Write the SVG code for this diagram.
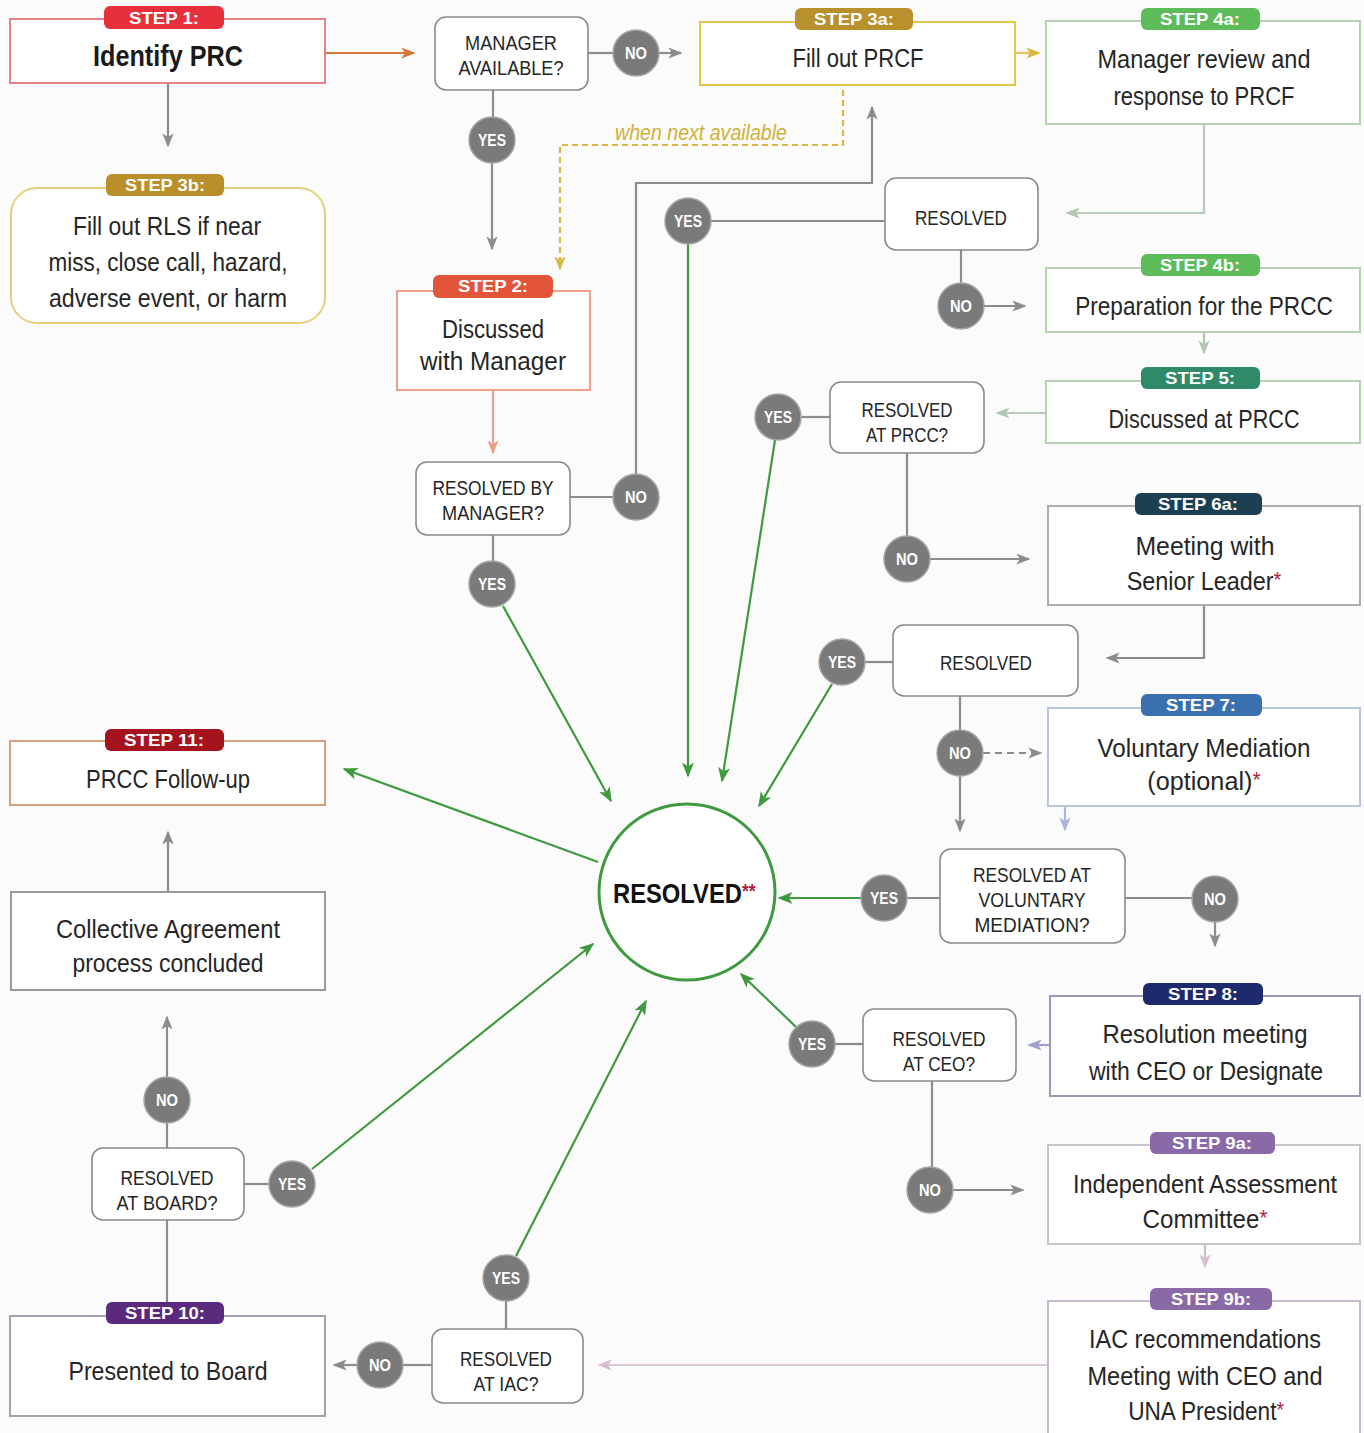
<svg xmlns="http://www.w3.org/2000/svg" width="1364" height="1433" viewBox="0 0 1364 1433">
<defs>
<style>
text{font-family:"Liberation Sans",Arial,sans-serif;fill:#262626}
.t{font-size:26px;text-anchor:middle}
.d{font-size:21px;text-anchor:middle}
.p{font-size:17px;font-weight:bold;fill:#fff;text-anchor:middle}
.bt{fill:#fff;font-size:17px;font-weight:bold;text-anchor:middle}
.box{fill:#fff;stroke-width:2}
.dec{fill:#fff;stroke:#8a8a8a;stroke-width:1.6}
.badge{fill:#7a7a7a;stroke:#a5a5a5;stroke-width:1.5}
.c{fill:none;stroke-width:2.2}
.g{stroke:#8c8c8c}
.gr{stroke:#3f9a3f}
.ast{fill:#b0203a;font-size:22px}
</style>
<marker id="mg" viewBox="0 0 10 10" refX="9" refY="5" markerWidth="14" markerHeight="14" markerUnits="userSpaceOnUse" orient="auto"><path d="M0,1 L10,5 L0,9 L2.5,5 z" fill="#8c8c8c"/></marker>
<marker id="mgr" viewBox="0 0 10 10" refX="9" refY="5" markerWidth="15" markerHeight="15" markerUnits="userSpaceOnUse" orient="auto"><path d="M0,1 L10,5 L0,9 L2.5,5 z" fill="#3f9a3f"/></marker>
<marker id="mo" viewBox="0 0 10 10" refX="9" refY="5" markerWidth="14" markerHeight="14" markerUnits="userSpaceOnUse" orient="auto"><path d="M0,1 L10,5 L0,9 L2.5,5 z" fill="#d9773a"/></marker>
<marker id="my" viewBox="0 0 10 10" refX="9" refY="5" markerWidth="14" markerHeight="14" markerUnits="userSpaceOnUse" orient="auto"><path d="M0,1 L10,5 L0,9 L2.5,5 z" fill="#d8b840"/></marker>
<marker id="mlg" viewBox="0 0 10 10" refX="9" refY="5" markerWidth="14" markerHeight="14" markerUnits="userSpaceOnUse" orient="auto"><path d="M0,1 L10,5 L0,9 L2.5,5 z" fill="#b0c8b0"/></marker>
<marker id="mlp" viewBox="0 0 10 10" refX="9" refY="5" markerWidth="14" markerHeight="14" markerUnits="userSpaceOnUse" orient="auto"><path d="M0,1 L10,5 L0,9 L2.5,5 z" fill="#a0a0c8"/></marker>
<marker id="ms" viewBox="0 0 10 10" refX="9" refY="5" markerWidth="14" markerHeight="14" markerUnits="userSpaceOnUse" orient="auto"><path d="M0,1 L10,5 L0,9 L2.5,5 z" fill="#eca08c"/></marker>
<marker id="mlb" viewBox="0 0 10 10" refX="9" refY="5" markerWidth="14" markerHeight="14" markerUnits="userSpaceOnUse" orient="auto"><path d="M0,1 L10,5 L0,9 L2.5,5 z" fill="#a8b4d8"/></marker>
<marker id="mpk" viewBox="0 0 10 10" refX="9" refY="5" markerWidth="14" markerHeight="14" markerUnits="userSpaceOnUse" orient="auto"><path d="M0,1 L10,5 L0,9 L2.5,5 z" fill="#d8bcd0"/></marker>
</defs>
<rect width="1364" height="1433" fill="#fbfbfb"/>

<g id="connectors">
<path class="c" stroke="#d9773a" d="M325,53 H414" marker-end="url(#mo)"/>
<path class="c g" d="M168,84 V146" marker-end="url(#mg)"/>
<path class="c g" d="M588,53 H613"/>
<path class="c g" d="M659,53 H681" marker-end="url(#mg)"/>
<path class="c g" d="M493,90 V117"/>
<path class="c g" d="M492,163 V249" marker-end="url(#mg)"/>
<path class="c" stroke="#e3c860" d="M1016,53 H1039" marker-end="url(#my)"/>
<path class="c" stroke="#d8b840" stroke-dasharray="6,4" d="M843,90 V145 H560 V269" marker-end="url(#my)"/>
<path class="c" stroke="#b8ccb8" d="M1204,124 V213 H1067" marker-end="url(#mlg)"/>
<path class="c g" d="M885,221 H711"/>
<path class="c gr" d="M688,244 V776" marker-end="url(#mgr)"/>
<path class="c g" d="M961,250 V283"/>
<path class="c g" d="M984,306 H1025" marker-end="url(#mg)"/>
<path class="c" stroke="#b0c8b0" d="M1204,332 V353" marker-end="url(#mlg)"/>
<path class="c" stroke="#b8ccb8" d="M1046,413 H997" marker-end="url(#mlg)"/>
<path class="c" stroke="#eca08c" d="M493,390 V453" marker-end="url(#ms)"/>
<path class="c g" d="M570,497 H614"/>
<path class="c g" d="M636,474 V183 H872 V107" marker-end="url(#mg)"/>
<path class="c g" d="M493,535 V561"/>
<path class="c gr" d="M503,606 L611,801" marker-end="url(#mgr)"/>
<path class="c g" d="M830,417 H801"/>
<path class="c gr" d="M775,440 L722,781" marker-end="url(#mgr)"/>
<path class="c g" d="M907,453 V536"/>
<path class="c g" d="M930,559 H1029" marker-end="url(#mg)"/>
<path class="c g" d="M1204,605 V658 H1107" marker-end="url(#mg)"/>
<path class="c g" d="M893,662 H865"/>
<path class="c gr" d="M832,684 L759,806" marker-end="url(#mgr)"/>
<path class="c g" d="M960,696 V730"/>
<path class="c g" d="M960,776 V831" marker-end="url(#mg)"/>
<path class="c g" stroke-dasharray="7,5" d="M983,753 H1041" marker-end="url(#mg)"/>
<path class="c" stroke="#a8b4d8" d="M1065,806 V830" marker-end="url(#mlb)"/>
<path class="c g" d="M940,898 H907"/>
<path class="c gr" d="M861,898 H779" marker-end="url(#mgr)"/>
<path class="c g" d="M1125,898 H1192"/>
<path class="c g" d="M1215,922 V946" marker-end="url(#mg)"/>
<path class="c" stroke="#a0a0c8" d="M1050,1045 H1029" marker-end="url(#mlp)"/>
<path class="c g" d="M863,1044 H835"/>
<path class="c gr" d="M796,1027 L741,974" marker-end="url(#mgr)"/>
<path class="c g" d="M932,1081 V1167"/>
<path class="c g" d="M953,1190 H1023" marker-end="url(#mg)"/>
<path class="c" stroke="#c8c0cc" d="M1205,1244 V1267" marker-end="url(#mpk)"/>
<path class="c" stroke="#dcc8d6" d="M1048,1365 H599" marker-end="url(#mpk)"/>
<path class="c g" d="M432,1365 H403"/>
<path class="c g" d="M357,1365 H334" marker-end="url(#mg)"/>
<path class="c g" d="M506,1329 V1301"/>
<path class="c gr" d="M516,1256 L646,1001" marker-end="url(#mgr)"/>
<path class="c g" d="M167,1315 V1220"/>
<path class="c g" d="M167,1148 V1123"/>
<path class="c g" d="M167,1077 V1017" marker-end="url(#mg)"/>
<path class="c g" d="M244,1184 H270"/>
<path class="c gr" d="M312,1169 L593,944" marker-end="url(#mgr)"/>
<path class="c g" d="M168,892 V832" marker-end="url(#mg)"/>
<path class="c gr" d="M598,862 L344,769" marker-end="url(#mgr)"/>
</g>

<g id="step1">
<rect class="box" x="10" y="19" width="315" height="64" stroke="#e8808a"/>
<rect x="104" y="6" width="120" height="23" rx="6" fill="#e8303c"/>
<text class="p" x="164" y="24" textLength="70" lengthAdjust="spacingAndGlyphs">STEP 1:</text>
<text x="168" y="66" font-size="29" font-weight="bold" text-anchor="middle" style="fill:#1a1a1a" textLength="150" lengthAdjust="spacingAndGlyphs">Identify PRC</text>
</g>

<g id="step3b">
<rect class="box" x="11" y="188" width="314" height="135" rx="26" stroke="#e6cf7a"/>
<rect x="106" y="174" width="118" height="22" rx="6" fill="#b88f2a"/>
<text class="p" x="165" y="191" textLength="80" lengthAdjust="spacingAndGlyphs">STEP 3b:</text>
<text class="t" x="167" y="235" textLength="188" lengthAdjust="spacingAndGlyphs">Fill out RLS if near</text>
<text class="t" x="168" y="271" textLength="239" lengthAdjust="spacingAndGlyphs">miss, close call, hazard,</text>
<text class="t" x="168" y="307" textLength="238" lengthAdjust="spacingAndGlyphs">adverse event, or harm</text>
</g>

<g id="manager-available">
<rect class="dec" x="435" y="17" width="153" height="73" rx="11"/>
<text class="d" x="511" y="50" textLength="92" lengthAdjust="spacingAndGlyphs">MANAGER</text>
<text class="d" x="511" y="75" textLength="105" lengthAdjust="spacingAndGlyphs">AVAILABLE?</text>
</g>

<g id="step3a">
<rect class="box" x="700" y="22" width="315" height="63" stroke="#e3c54a"/>
<rect x="795" y="8" width="118" height="22" rx="6" fill="#b8902c"/>
<text class="p" x="854" y="25" textLength="80" lengthAdjust="spacingAndGlyphs">STEP 3a:</text>
<text class="t" x="858" y="67" textLength="131" lengthAdjust="spacingAndGlyphs">Fill out PRCF</text>
</g>

<g id="step4a">
<rect class="box" x="1046" y="21" width="314" height="103" stroke="#b5d3b0"/>
<rect x="1141" y="8" width="119" height="22" rx="6" fill="#5dbb5a"/>
<text class="p" x="1200" y="25" textLength="80" lengthAdjust="spacingAndGlyphs">STEP 4a:</text>
<text class="t" x="1204" y="68" textLength="213" lengthAdjust="spacingAndGlyphs">Manager review and</text>
<text class="t" x="1204" y="105" textLength="181" lengthAdjust="spacingAndGlyphs">response to PRCF</text>
</g>

<g id="label-when-next-available">
<text x="701" y="140" font-size="22" font-style="italic" text-anchor="middle" style="fill:#d0b034" textLength="172" lengthAdjust="spacingAndGlyphs">when next available</text>
</g>

<g id="resolved-top">
<rect class="dec" x="885" y="178" width="153" height="72" rx="11"/>
<text class="d" x="961" y="225" textLength="92" lengthAdjust="spacingAndGlyphs">RESOLVED</text>
</g>

<g id="step2">
<rect class="box" x="397" y="291" width="193" height="99" stroke="#eea08a"/>
<rect x="433" y="275" width="120" height="23" rx="6" fill="#e2553a"/>
<text class="p" x="493" y="292" textLength="70" lengthAdjust="spacingAndGlyphs">STEP 2:</text>
<text class="t" x="493" y="338" textLength="102" lengthAdjust="spacingAndGlyphs">Discussed</text>
<text class="t" x="493" y="370" textLength="146" lengthAdjust="spacingAndGlyphs">with Manager</text>
</g>

<g id="step4b">
<rect class="box" x="1046" y="268" width="314" height="64" stroke="#b5d3b0"/>
<rect x="1141" y="254" width="119" height="22" rx="6" fill="#5dbb5a"/>
<text class="p" x="1200" y="271" textLength="80" lengthAdjust="spacingAndGlyphs">STEP 4b:</text>
<text class="t" transform="translate(1204,315) scale(0.87,1)">Preparation for the PRCC</text>
</g>

<g id="step5">
<rect class="box" x="1046" y="381" width="314" height="62" stroke="#b5d3b0"/>
<rect x="1141" y="367" width="119" height="22" rx="6" fill="#2e8a68"/>
<text class="p" x="1200" y="384" textLength="70" lengthAdjust="spacingAndGlyphs">STEP 5:</text>
<text class="t" x="1204" y="428" textLength="191" lengthAdjust="spacingAndGlyphs">Discussed at PRCC</text>
</g>

<g id="resolved-at-prcc">
<rect class="dec" x="830" y="382" width="154" height="71" rx="11"/>
<text class="d" x="907" y="417" textLength="91" lengthAdjust="spacingAndGlyphs">RESOLVED</text>
<text class="d" x="907" y="442" textLength="82" lengthAdjust="spacingAndGlyphs">AT PRCC?</text>
</g>

<g id="resolved-by-manager">
<rect class="dec" x="416" y="462" width="154" height="73" rx="11"/>
<text class="d" x="493" y="495" textLength="121" lengthAdjust="spacingAndGlyphs">RESOLVED BY</text>
<text class="d" x="493" y="520" textLength="102" lengthAdjust="spacingAndGlyphs">MANAGER?</text>
</g>

<g id="step6a">
<rect class="box" x="1048" y="506" width="312" height="99" stroke="#a8aeb4"/>
<rect x="1135" y="493" width="127" height="22" rx="6" fill="#1d3f52"/>
<text class="p" x="1198" y="510" textLength="80" lengthAdjust="spacingAndGlyphs">STEP 6a:</text>
<text class="t" x="1205" y="555" textLength="139" lengthAdjust="spacingAndGlyphs">Meeting with</text>
<text class="t" transform="translate(1204,590) scale(0.9,1)">Senior Leader<tspan class="ast" dy="-3">*</tspan></text>
</g>

<g id="resolved-mid">
<rect class="dec" x="893" y="625" width="185" height="71" rx="11"/>
<text class="d" x="986" y="670" textLength="92" lengthAdjust="spacingAndGlyphs">RESOLVED</text>
</g>

<g id="step7">
<rect class="box" x="1048" y="708" width="312" height="98" stroke="#b8c4d8"/>
<rect x="1141" y="694" width="121" height="22" rx="6" fill="#3a70b0"/>
<text class="p" x="1201" y="711" textLength="70" lengthAdjust="spacingAndGlyphs">STEP 7:</text>
<text class="t" x="1204" y="757" textLength="213" lengthAdjust="spacingAndGlyphs">Voluntary Mediation</text>
<text class="t" transform="translate(1204,790) scale(0.97,1)">(optional)<tspan class="ast" dy="-3">*</tspan></text>
</g>

<g id="step11">
<rect class="box" x="10" y="741" width="315" height="64" stroke="#d8a080"/>
<rect x="105" y="729" width="119" height="22" rx="6" fill="#a5141e"/>
<text class="p" x="164" y="746" textLength="80" lengthAdjust="spacingAndGlyphs">STEP 11:</text>
<text class="t" x="168" y="788" textLength="164" lengthAdjust="spacingAndGlyphs">PRCC Follow-up</text>
</g>

<g id="resolved-center">
<circle cx="687" cy="892" r="88" fill="#fff" stroke="#3f9a3f" stroke-width="3"/>
<text transform="translate(613,903) scale(0.88,1)" font-size="27" font-weight="bold" style="fill:#111">RESOLVED<tspan class="ast" dy="-5" style="font-size:20px">**</tspan></text>
</g>

<g id="resolved-at-voluntary-mediation">
<rect class="dec" x="940" y="849" width="185" height="94" rx="11"/>
<text class="d" x="1032" y="882" textLength="118" lengthAdjust="spacingAndGlyphs">RESOLVED AT</text>
<text class="d" x="1032" y="907" textLength="107" lengthAdjust="spacingAndGlyphs">VOLUNTARY</text>
<text class="d" x="1032" y="932" textLength="115" lengthAdjust="spacingAndGlyphs">MEDIATION?</text>
</g>

<g id="collective-agreement">
<rect class="box" x="11" y="892" width="314" height="98" stroke="#9a9a9a"/>
<text class="t" x="168" y="938" textLength="224" lengthAdjust="spacingAndGlyphs">Collective Agreement</text>
<text class="t" x="168" y="972" textLength="191" lengthAdjust="spacingAndGlyphs">process concluded</text>
</g>

<g id="step8">
<rect class="box" x="1050" y="996" width="310" height="100" stroke="#9a9ab8"/>
<rect x="1143" y="983" width="120" height="22" rx="6" fill="#1e2a6e"/>
<text class="p" x="1203" y="1000" textLength="70" lengthAdjust="spacingAndGlyphs">STEP 8:</text>
<text class="t" x="1205" y="1043" textLength="205" lengthAdjust="spacingAndGlyphs">Resolution meeting</text>
<text class="t" x="1206" y="1080" textLength="234" lengthAdjust="spacingAndGlyphs">with CEO or Designate</text>
</g>

<g id="resolved-at-ceo">
<rect class="dec" x="863" y="1009" width="153" height="72" rx="11"/>
<text class="d" x="939" y="1046" textLength="93" lengthAdjust="spacingAndGlyphs">RESOLVED</text>
<text class="d" x="939" y="1071" textLength="72" lengthAdjust="spacingAndGlyphs">AT CEO?</text>
</g>

<g id="step9a">
<rect class="box" x="1048" y="1145" width="312" height="99" stroke="#c8c4cc"/>
<rect x="1150" y="1132" width="125" height="22" rx="6" fill="#8a6aa6"/>
<text class="p" x="1212" y="1149" textLength="80" lengthAdjust="spacingAndGlyphs">STEP 9a:</text>
<text class="t" x="1205" y="1193" textLength="264" lengthAdjust="spacingAndGlyphs">Independent Assessment</text>
<text class="t" transform="translate(1205,1228) scale(0.93,1)">Committee<tspan class="ast" dy="-3">*</tspan></text>
</g>

<g id="resolved-at-board">
<rect class="dec" x="92" y="1148" width="152" height="72" rx="11"/>
<text class="d" x="167" y="1185" textLength="93" lengthAdjust="spacingAndGlyphs">RESOLVED</text>
<text class="d" x="167" y="1210" textLength="101" lengthAdjust="spacingAndGlyphs">AT BOARD?</text>
</g>

<g id="step9b">
<rect class="box" x="1048" y="1301" width="312" height="140" stroke="#c8b8d0"/>
<rect x="1150" y="1288" width="122" height="22" rx="6" fill="#8a6aa6"/>
<text class="p" x="1211" y="1305" textLength="80" lengthAdjust="spacingAndGlyphs">STEP 9b:</text>
<text class="t" x="1205" y="1348" textLength="232" lengthAdjust="spacingAndGlyphs">IAC recommendations</text>
<text class="t" x="1205" y="1385" textLength="235" lengthAdjust="spacingAndGlyphs">Meeting with CEO and</text>
<text class="t" transform="translate(1206,1420) scale(0.87,1)">UNA President<tspan class="ast" dy="-3">*</tspan></text>
</g>

<g id="step10">
<rect class="box" x="10" y="1316" width="315" height="100" stroke="#a8a0b0"/>
<rect x="106" y="1302" width="118" height="22" rx="6" fill="#5a2a7e"/>
<text class="p" x="165" y="1319" textLength="80" lengthAdjust="spacingAndGlyphs">STEP 10:</text>
<text class="t" x="168" y="1380" textLength="199" lengthAdjust="spacingAndGlyphs">Presented to Board</text>
</g>

<g id="resolved-at-iac">
<rect class="dec" x="432" y="1329" width="151" height="74" rx="11"/>
<text class="d" x="506" y="1366" textLength="92" lengthAdjust="spacingAndGlyphs">RESOLVED</text>
<text class="d" x="506" y="1391" textLength="65" lengthAdjust="spacingAndGlyphs">AT IAC?</text>
</g>

<g id="badges">
<g id="no-manager-available"><circle class="badge" cx="636" cy="53" r="23"/><text class="bt" x="636" y="59" textLength="22" lengthAdjust="spacingAndGlyphs">NO</text></g>
<g id="yes-manager-available"><circle class="badge" cx="492" cy="140" r="23"/><text class="bt" x="492" y="146" textLength="28" lengthAdjust="spacingAndGlyphs">YES</text></g>
<g id="yes-resolved-top"><circle class="badge" cx="688" cy="221" r="23"/><text class="bt" x="688" y="227" textLength="28" lengthAdjust="spacingAndGlyphs">YES</text></g>
<g id="no-resolved-top"><circle class="badge" cx="961" cy="306" r="23"/><text class="bt" x="961" y="312" textLength="22" lengthAdjust="spacingAndGlyphs">NO</text></g>
<g id="yes-prcc"><circle class="badge" cx="778" cy="417" r="23"/><text class="bt" x="778" y="423" textLength="28" lengthAdjust="spacingAndGlyphs">YES</text></g>
<g id="no-by-manager"><circle class="badge" cx="636" cy="497" r="23"/><text class="bt" x="636" y="503" textLength="22" lengthAdjust="spacingAndGlyphs">NO</text></g>
<g id="no-prcc"><circle class="badge" cx="907" cy="559" r="23"/><text class="bt" x="907" y="565" textLength="22" lengthAdjust="spacingAndGlyphs">NO</text></g>
<g id="yes-by-manager"><circle class="badge" cx="492" cy="584" r="23"/><text class="bt" x="492" y="590" textLength="28" lengthAdjust="spacingAndGlyphs">YES</text></g>
<g id="yes-resolved-mid"><circle class="badge" cx="842" cy="662" r="23"/><text class="bt" x="842" y="668" textLength="28" lengthAdjust="spacingAndGlyphs">YES</text></g>
<g id="no-resolved-mid"><circle class="badge" cx="960" cy="753" r="23"/><text class="bt" x="960" y="759" textLength="22" lengthAdjust="spacingAndGlyphs">NO</text></g>
<g id="yes-voluntary"><circle class="badge" cx="884" cy="898" r="23"/><text class="bt" x="884" y="904" textLength="28" lengthAdjust="spacingAndGlyphs">YES</text></g>
<g id="no-voluntary"><circle class="badge" cx="1215" cy="899" r="23"/><text class="bt" x="1215" y="905" textLength="22" lengthAdjust="spacingAndGlyphs">NO</text></g>
<g id="yes-ceo"><circle class="badge" cx="812" cy="1044" r="23"/><text class="bt" x="812" y="1050" textLength="28" lengthAdjust="spacingAndGlyphs">YES</text></g>
<g id="no-board"><circle class="badge" cx="167" cy="1100" r="23"/><text class="bt" x="167" y="1106" textLength="22" lengthAdjust="spacingAndGlyphs">NO</text></g>
<g id="yes-board"><circle class="badge" cx="292" cy="1184" r="23"/><text class="bt" x="292" y="1190" textLength="28" lengthAdjust="spacingAndGlyphs">YES</text></g>
<g id="no-ceo"><circle class="badge" cx="930" cy="1190" r="23"/><text class="bt" x="930" y="1196" textLength="22" lengthAdjust="spacingAndGlyphs">NO</text></g>
<g id="yes-iac"><circle class="badge" cx="506" cy="1278" r="23"/><text class="bt" x="506" y="1284" textLength="28" lengthAdjust="spacingAndGlyphs">YES</text></g>
<g id="no-iac"><circle class="badge" cx="380" cy="1365" r="23"/><text class="bt" x="380" y="1371" textLength="22" lengthAdjust="spacingAndGlyphs">NO</text></g>
</g>
</svg>
